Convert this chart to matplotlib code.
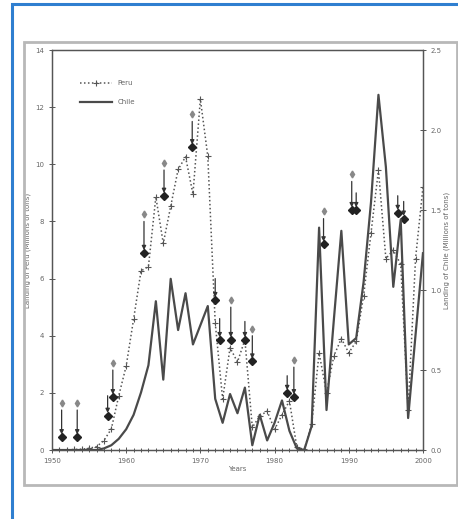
import matplotlib.pyplot as plt
from matplotlib.patches import Rectangle
from matplotlib.ticker import MultipleLocator

# landings, 1950-2000
years = list(range(1950, 2001))

# Peru (left axis, millions of tons)
peru = [0.0, 0.0, 0.0, 0.02, 0.03, 0.06, 0.12, 0.33, 0.74, 1.9,
        2.94, 4.58, 6.27, 6.42, 8.86, 7.23, 8.53, 9.82, 10.26, 8.96,
        12.28, 10.28, 4.45, 1.78, 3.58, 3.08, 3.86, 0.79, 1.19, 1.36,
        0.72, 1.23, 1.72, 0.1, 0.02, 0.9, 3.4, 2.0, 3.3, 3.9,
        3.4, 3.8, 5.4, 7.6, 9.8, 6.7, 7.0, 6.5, 1.4, 6.7,
        9.2]

# Chile (right axis, millions of tons)
chile = [0.0, 0.0, 0.0, 0.0, 0.0, 0.0, 0.0, 0.01, 0.03, 0.07,
         0.13, 0.22, 0.36, 0.53, 0.93, 0.44, 1.07, 0.75, 0.98, 0.66,
         0.78, 0.9, 0.32, 0.17, 0.35, 0.23, 0.39, 0.03, 0.22, 0.06,
         0.17, 0.31, 0.12, 0.01, 0.0, 0.15, 1.39, 0.25, 0.82, 1.37,
         0.66, 0.7, 1.05, 1.55, 2.22, 1.77, 1.02, 1.44, 0.2, 0.72,
         1.23]

# event arrows (left axis units): year, start, end, marker on top
arrow_years = [1951.3, 1953.4, 1957.5, 1958.2, 1962.4, 1965.1, 1968.9,
               1972.0, 1972.6, 1974.1, 1976.0, 1977.0, 1981.7, 1982.6,
               1986.6, 1990.4, 1991.0, 1996.6, 1997.4]
arrow_top = [1.4, 1.4, 1.9, 2.8, 8.0, 9.8, 11.5,
             6.0, 4.6, 5.0, 4.5, 4.0, 2.6, 2.9,
             8.1, 9.4, 9.0, 8.9, 8.7]
arrow_end = [0.45, 0.45, 1.2, 1.85, 6.9, 8.9, 10.6,
             5.25, 3.85, 3.85, 3.85, 3.1, 2.0, 1.85,
             7.2, 8.4, 8.4, 8.3, 8.1]
arrow_mark = [True, True, False, True, True, True, True,
              False, False, True, False, True, False, True,
              True, True, False, False, False]

fig = plt.figure(figsize=(4.58, 5.19), dpi=100)

# page frames
fig.patches.append(Rectangle((0.026, -0.2), 1.2, 1.192, transform=fig.transFigure,
                             fill=False, edgecolor='#2f7fd0', lw=2.2))
fig.patches.append(Rectangle((0.052, 0.066), 0.946, 0.853, transform=fig.transFigure,
                             fill=False, edgecolor='#b8b8b8', lw=2.0))

ax = fig.add_axes([0.1135, 0.1329, 0.810, 0.7707])
ax2 = ax.twinx()

txt = '#666666'
ax.plot(years, peru, linestyle=(0, (1, 1.6)), color='#555555', lw=1.1,
        marker='+', markersize=4, markeredgewidth=0.8, label='Peru', zorder=3)
ax2.plot(years, chile, '-', color='#4a4a4a', lw=1.6, zorder=2)
ax.plot([], [], '-', color='#4a4a4a', lw=1.6, label='Chile')

for x, y0, y1, m in zip(arrow_years, arrow_top, arrow_end, arrow_mark):
    ax.annotate('', xy=(x, y1), xytext=(x, y0),
                arrowprops=dict(arrowstyle='-|>', color='#333333', lw=0.9,
                                mutation_scale=6, shrinkA=0, shrinkB=2))
    ax.plot(x, y1, 'D', color='#222222', markersize=4, zorder=5)
    if m:
        ax.plot(x, y0 + 0.25, 'd', color='#888888', markersize=3.5, zorder=5)

ax.set_xlim(1950, 2000)
ax.set_ylim(0, 14)
ax2.set_ylim(0, 2.5)
ax.xaxis.set_major_locator(MultipleLocator(10))
ax.xaxis.set_minor_locator(MultipleLocator(1))
ax.yaxis.set_major_locator(MultipleLocator(2))
ax2.set_yticks([0, 0.5, 1.0, 1.5, 2.0, 2.5])
ax2.set_yticklabels(['%.1f' % v for v in [0, 0.5, 1.0, 1.5, 2.0, 2.5]])

for a in (ax, ax2):
    a.tick_params(which='both', direction='inout', labelsize=5, colors='#555555',
                  labelcolor=txt, length=4, width=0.7)
    a.tick_params(which='minor', length=3)
    for s in a.spines.values():
        s.set_color('#555555')
        s.set_linewidth(0.9)

ax.set_xlabel('Years', fontsize=5, color=txt, labelpad=2)
ax.set_ylabel('Landing of Peru (Millions of tons)', fontsize=5, color=txt, labelpad=3)
ax2.set_ylabel('Landing of Chile (Millions of tons)', fontsize=5, color=txt, labelpad=1)

leg = ax.legend(loc='upper left', bbox_to_anchor=(0.06, 0.94), frameon=False,
                fontsize=5, handlelength=4.5, labelcolor=txt, labelspacing=1.9)

fig.savefig('out.png', dpi=100)
